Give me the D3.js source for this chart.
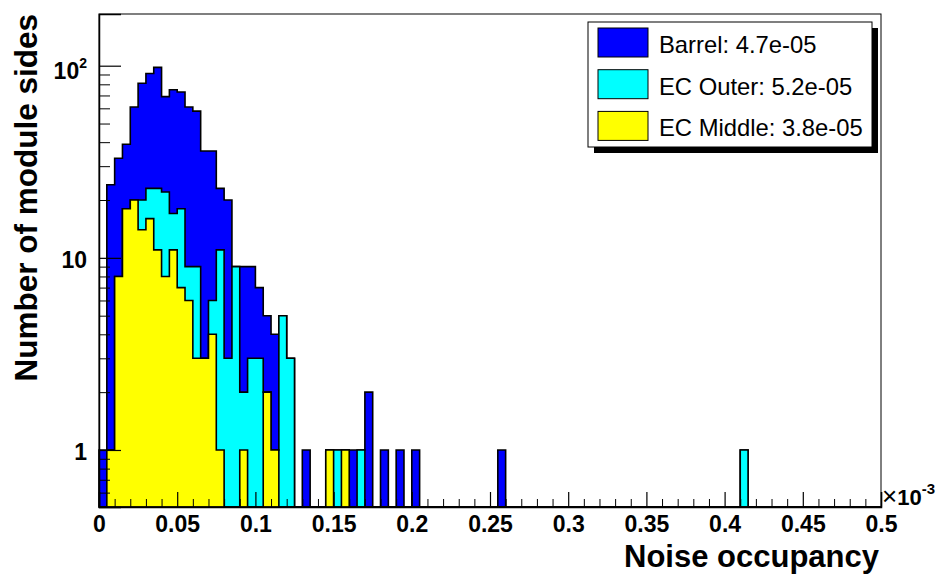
<!DOCTYPE html>
<html>
<head>
<meta charset="utf-8">
<script src="https://cdn.jsdelivr.net/npm/d3@7"></script>
<style>
  body { margin: 0; background: #fff; }
  svg { display: block; font-family: "Liberation Sans", Arial, Helvetica, sans-serif; }
</style>
</head>
<body>
<div id="chart"></div>
<script>
// Histogram binning (noise occupancy, units of 1e-3)
const nBins = 100;
const xMin = 0;
const xMax = 0.5;

// Counts per bin for each detector region
const barrel = [
  1, 23, 25, 21, 41, 61, 68, 75, 47, 58, 55, 52, 49, 33, 30, 12, 17, 0, 7, 6,
  4, 3, 3, 0, 0, 0, 1, 0, 0, 0, 0, 0, 1, 0, 2, 0, 1, 0, 1, 0,
  1, 0, 0, 0, 0, 0, 0, 0, 0, 0, 0, 1, 0, 0, 0, 0, 0, 0, 0, 0,
  0, 0, 0, 0, 0, 0, 0, 0, 0, 0, 0, 0, 0, 0, 0, 0, 0, 0, 0, 0,
  0, 0, 0, 0, 0, 0, 0, 0, 0, 0, 0, 0, 0, 0, 0, 0, 0, 0, 0, 0
];
const ecOuter = [
  0, 0, 0, 0, 0, 6, 7, 12, 14, 6, 11, 3, 6, 0, 2, 10, 3, 9, 1, 3,
  3, 0, 0, 5, 3, 0, 0, 0, 0, 0, 1, 0, 0, 1, 0, 0, 0, 0, 0, 0,
  0, 0, 0, 0, 0, 0, 0, 0, 0, 0, 0, 0, 0, 0, 0, 0, 0, 0, 0, 0,
  0, 0, 0, 0, 0, 0, 0, 0, 0, 0, 0, 0, 0, 0, 0, 0, 0, 0, 0, 0,
  0, 0, 1, 0, 0, 0, 0, 0, 0, 0, 0, 0, 0, 0, 0, 0, 0, 0, 0, 0
];
const ecMiddle = [
  0, 1, 8, 18, 20, 14, 16, 11, 8, 11, 7, 6, 3, 3, 4, 1, 0, 0, 1, 0,
  0, 2, 1, 0, 0, 0, 0, 0, 0, 1, 0, 1, 0, 0, 0, 0, 0, 0, 0, 0,
  0, 0, 0, 0, 0, 0, 0, 0, 0, 0, 0, 0, 0, 0, 0, 0, 0, 0, 0, 0,
  0, 0, 0, 0, 0, 0, 0, 0, 0, 0, 0, 0, 0, 0, 0, 0, 0, 0, 0, 0,
  0, 0, 0, 0, 0, 0, 0, 0, 0, 0, 0, 0, 0, 0, 0, 0, 0, 0, 0, 0
];

// Legend entries (top to bottom) and tick values
const legendLabels = ["Barrel: 4.7e-05", "EC Outer: 5.2e-05", "EC Middle: 3.8e-05"];
const legendColors = ["#0000ff", "#00ffff", "#ffff00"];
const xMajorTicks = [0, 0.05, 0.1, 0.15, 0.2, 0.25, 0.3, 0.35, 0.4, 0.45, 0.5];
const yMajorTicks = [1, 10, 100];
const yMinorTicks = [0.6, 0.7, 0.8, 0.9, 2, 3, 4, 5, 6, 7, 8, 9, 20, 30, 40, 50, 60, 70, 80, 90];

const width = 937;
const height = 575;
const marginLeft = 99;
const marginRight = 56;
const marginTop = 14;
const marginBottom = 68;
const yMin = 0.505;
const yMax = 185.8;

const svg = d3.select("#chart")
  .append("svg")
  .attr("width", width)
  .attr("height", height);

const x = d3.scaleLinear()
  .domain([xMin, xMax])
  .range([marginLeft, width - marginRight]);

const y = d3.scaleLog()
  .domain([yMin, yMax])
  .range([height - marginBottom, marginTop])
  .clamp(true);

const yBottom = height - marginBottom;
const binWidth = (xMax - xMin) / nBins;

// Stack: EC Middle at bottom, then EC Outer, Barrel on top
const rows = d3.range(nBins).map(i => ({
  ecMiddle: ecMiddle[i], ecOuter: ecOuter[i], barrel: barrel[i]
}));
const stacked = d3.stack().keys(["ecMiddle", "ecOuter", "barrel"])(rows);
const fills = { ecMiddle: "#ffff00", ecOuter: "#00ffff", barrel: "#0000ff" };

const yv = v => v > 0 ? y(v) : yBottom;

const line = d3.line();
function stepPoints(layer) {
  const pts = [[x(xMin), yBottom]];
  layer.forEach((d, i) => {
    const lo = xMin + i * binWidth;
    const hi = lo + binWidth;
    pts.push([x(lo), yv(d[1])], [x(hi), yv(d[1])]);
  });
  pts.push([x(xMax), yBottom]);
  return pts;
}

// Draw the cumulative histograms, tallest first
const hist = svg.append("g");
stacked.slice().reverse().forEach(layer => {
  hist.append("path")
    .attr("d", line(stepPoints(layer)) + "Z")
    .attr("fill", fills[layer.key])
    .attr("stroke", "#000")
    .attr("stroke-width", 1.6)
    .attr("stroke-linejoin", "miter");
});

// Frame
svg.append("rect")
  .attr("x", marginLeft)
  .attr("y", marginTop)
  .attr("width", width - marginLeft - marginRight)
  .attr("height", height - marginTop - marginBottom)
  .attr("fill", "none")
  .attr("stroke", "#000")
  .attr("stroke-width", 1);

// X axis: minor ticks every 0.01, majors every 0.05
const xMinor = d3.range(0, 51).map(k => k / 100).filter(v => Math.round(v * 100) % 5 !== 0);
svg.append("g")
  .attr("transform", `translate(0,${yBottom})`)
  .call(d3.axisBottom(x).tickValues(xMinor).tickSize(-8).tickFormat(""))
  .call(g => g.select(".domain").remove());

const xAxis = svg.append("g")
  .attr("transform", `translate(0,${yBottom})`)
  .call(d3.axisBottom(x).tickValues(xMajorTicks).tickSize(-15).tickPadding(9)
    .tickFormat(d3.format(".2~f")));
xAxis.select(".domain").attr("stroke-width", 1.5);
xAxis.selectAll(".tick line").attr("stroke-width", 1.2);
xAxis.selectAll("text")
  .attr("font-size", 23)
  .attr("font-weight", "bold")
  .attr("fill", "#000");

// Y axis: log ticks drawn inside the frame
svg.append("g")
  .attr("transform", `translate(${marginLeft},0)`)
  .call(d3.axisLeft(y).tickValues(yMinorTicks).tickSize(-11).tickFormat(""))
  .call(g => g.select(".domain").remove());

const yAxis = svg.append("g")
  .attr("transform", `translate(${marginLeft},0)`)
  .call(d3.axisLeft(y).tickValues(yMajorTicks).tickSize(-22).tickPadding(12)
    .tickFormat(d => d === 100 ? "" : String(d)));
yAxis.select(".domain").attr("stroke-width", 1.5);
yAxis.selectAll(".tick line").attr("stroke-width", 1.2);
yAxis.selectAll("text")
  .attr("font-size", 23)
  .attr("font-weight", "bold")
  .attr("fill", "#000")
  .attr("dy", "0.42em");
yAxis.selectAll(".tick").filter(d => d === 100).select("text")
  .attr("dy", "0.55em")
  .call(t => {
    t.append("tspan").text("10");
    t.append("tspan").attr("font-size", 14).attr("dy", "-0.75em").text("2");
  });

// Exponent label on the x axis
const expo = svg.append("text")
  .attr("x", width - marginRight + 1)
  .attr("y", yBottom - 2)
  .attr("font-size", 22)
  .attr("font-weight", "bold");
expo.append("tspan").attr("font-weight", "normal").attr("font-size", 26).text("\u00d7");
expo.append("tspan").text("10");
expo.append("tspan").attr("font-size", 15).attr("dy", "-0.75em").text("-3");

// Axis titles
svg.append("text")
  .attr("x", width - marginRight - 2)
  .attr("y", 567)
  .attr("text-anchor", "end")
  .attr("font-size", 31)
  .attr("font-weight", "bold")
  .text("Noise occupancy");

svg.append("text")
  .attr("transform", `translate(37,14) rotate(-90)`)
  .attr("text-anchor", "end")
  .attr("font-size", 31.5)
  .attr("font-weight", "bold")
  .text("Number of module sides");

// Legend with drop shadow
const lx = 588, ly = 22, lw = 284, lh = 125;
svg.append("rect")
  .attr("x", lx + 6).attr("y", ly + 6)
  .attr("width", lw).attr("height", lh)
  .attr("fill", "#000");
svg.append("rect")
  .attr("x", lx).attr("y", ly)
  .attr("width", lw).attr("height", lh)
  .attr("fill", "#fff")
  .attr("stroke", "#000")
  .attr("stroke-width", 1);

const entry = svg.append("g").selectAll("g")
  .data(legendLabels)
  .join("g")
  .attr("transform", (d, i) => `translate(${lx + 10},${ly + 6 + i * 41.7})`);
entry.append("rect")
  .attr("width", 50).attr("height", 29)
  .attr("fill", (d, i) => legendColors[i])
  .attr("stroke", "#000")
  .attr("stroke-width", 1);
entry.append("text")
  .attr("x", 61)
  .attr("y", 25)
  .attr("font-size", 23.8)
  .text(d => d);
</script>
</body>
</html>
